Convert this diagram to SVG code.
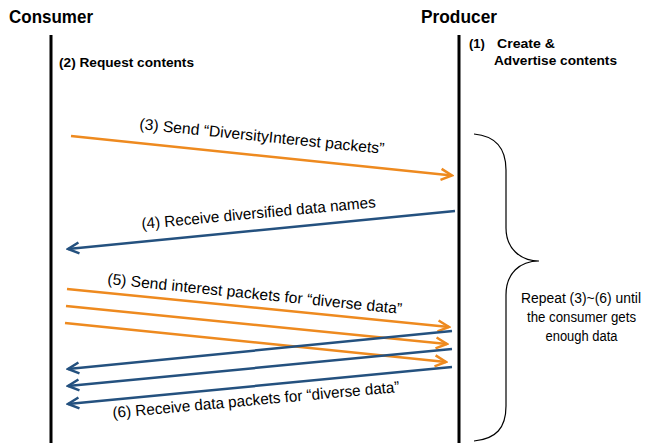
<svg xmlns="http://www.w3.org/2000/svg" width="647" height="443" viewBox="0 0 647 443">
<defs>
<style>
.title{font-family:"Liberation Sans",Arial,sans-serif;font-weight:bold;font-size:18px;fill:#000}
.note{font-family:"Liberation Sans",Arial,sans-serif;font-weight:bold;font-size:13px;fill:#000}
.lbl{font-family:"Liberation Sans",Arial,sans-serif;font-size:15.5px;fill:#000}
.rep{font-family:"Liberation Sans",Arial,sans-serif;font-size:14px;fill:#000;text-anchor:middle}
.life{stroke:#000;stroke-width:3;fill:none}
.or{stroke:#EE8A1F;stroke-width:2.5;fill:none;marker-end:url(#ao)}
.bl{stroke:#24517F;stroke-width:2.5;fill:none;marker-end:url(#ab)}
.brace{stroke:#000;stroke-width:1.2;fill:none}
</style>
<marker id="ao" viewBox="-14 -8 16 16" refX="0" refY="0" markerWidth="16" markerHeight="16" markerUnits="userSpaceOnUse" orient="auto">
<path d="M-11,-5.5 L0,0 L-11,5.5" fill="none" stroke="#EE8A1F" stroke-width="2.5"/>
</marker>
<marker id="ab" viewBox="-14 -8 16 16" refX="0" refY="0" markerWidth="16" markerHeight="16" markerUnits="userSpaceOnUse" orient="auto">
<path d="M-11,-5.5 L0,0 L-11,5.5" fill="none" stroke="#24517F" stroke-width="2.5"/>
</marker>
</defs>
<rect width="647" height="443" fill="#fff"/>

<g id="consumer">
<text class="title" x="9" y="23" textLength="84" lengthAdjust="spacingAndGlyphs">Consumer</text>
<line class="life" x1="51" y1="35" x2="51" y2="443"/>
<text class="note" x="59" y="67" textLength="135" lengthAdjust="spacingAndGlyphs">(2) Request contents</text>
</g>

<g id="producer">
<text class="title" x="421" y="23" textLength="76" lengthAdjust="spacingAndGlyphs">Producer</text>
<line class="life" x1="459" y1="35" x2="459" y2="443"/>
<text class="note" x="469" y="48">(1)</text>
<text class="note" x="497" y="48" textLength="58" lengthAdjust="spacingAndGlyphs">Create &amp;</text>
<text class="note" x="494" y="65" textLength="123" lengthAdjust="spacingAndGlyphs">Advertise contents</text>
</g>

<g id="connectors">
<line class="or" x1="71" y1="136" x2="452" y2="175.5"/>
<line class="bl" x1="455" y1="211" x2="68" y2="249"/>
<line class="or" x1="67" y1="289" x2="449" y2="327"/>
<line class="or" x1="66" y1="306" x2="447" y2="344"/>
<line class="or" x1="65" y1="323" x2="446" y2="362"/>
<line class="bl" x1="452" y1="331" x2="68" y2="369"/>
<line class="bl" x1="452" y1="349" x2="68" y2="386"/>
<line class="bl" x1="452" y1="367" x2="68" y2="404"/>
</g>

<g id="labels">
<text class="lbl" transform="translate(139,129) rotate(5.8)" textLength="246" lengthAdjust="spacingAndGlyphs">(3) Send “DiversityInterest packets”</text>
<text class="lbl" transform="translate(142,229) rotate(-5.3)" textLength="235" lengthAdjust="spacingAndGlyphs">(4) Receive diversified data names</text>
<text class="lbl" transform="translate(107,284) rotate(5.8)" textLength="296" lengthAdjust="spacingAndGlyphs">(5) Send interest packets for “diverse data”</text>
<text class="lbl" transform="translate(113,418) rotate(-5.2)" textLength="288" lengthAdjust="spacingAndGlyphs">(6) Receive data packets for “diverse data”</text>
</g>

<g id="repeat">
<path class="brace" d="M474,134 C496,136 506,148 506,170 L506,228 C506,248 520,261 539,261 C520,261 506,273 506,295 L506,406 C506,428 496,439 474,441"/>
<text class="rep" x="581" y="303" textLength="120" lengthAdjust="spacingAndGlyphs">Repeat (3)~(6) until</text>
<text class="rep" x="581.5" y="322" textLength="109" lengthAdjust="spacingAndGlyphs">the consumer gets</text>
<text class="rep" x="581.5" y="341" textLength="72" lengthAdjust="spacingAndGlyphs">enough data</text>
</g>
</svg>
